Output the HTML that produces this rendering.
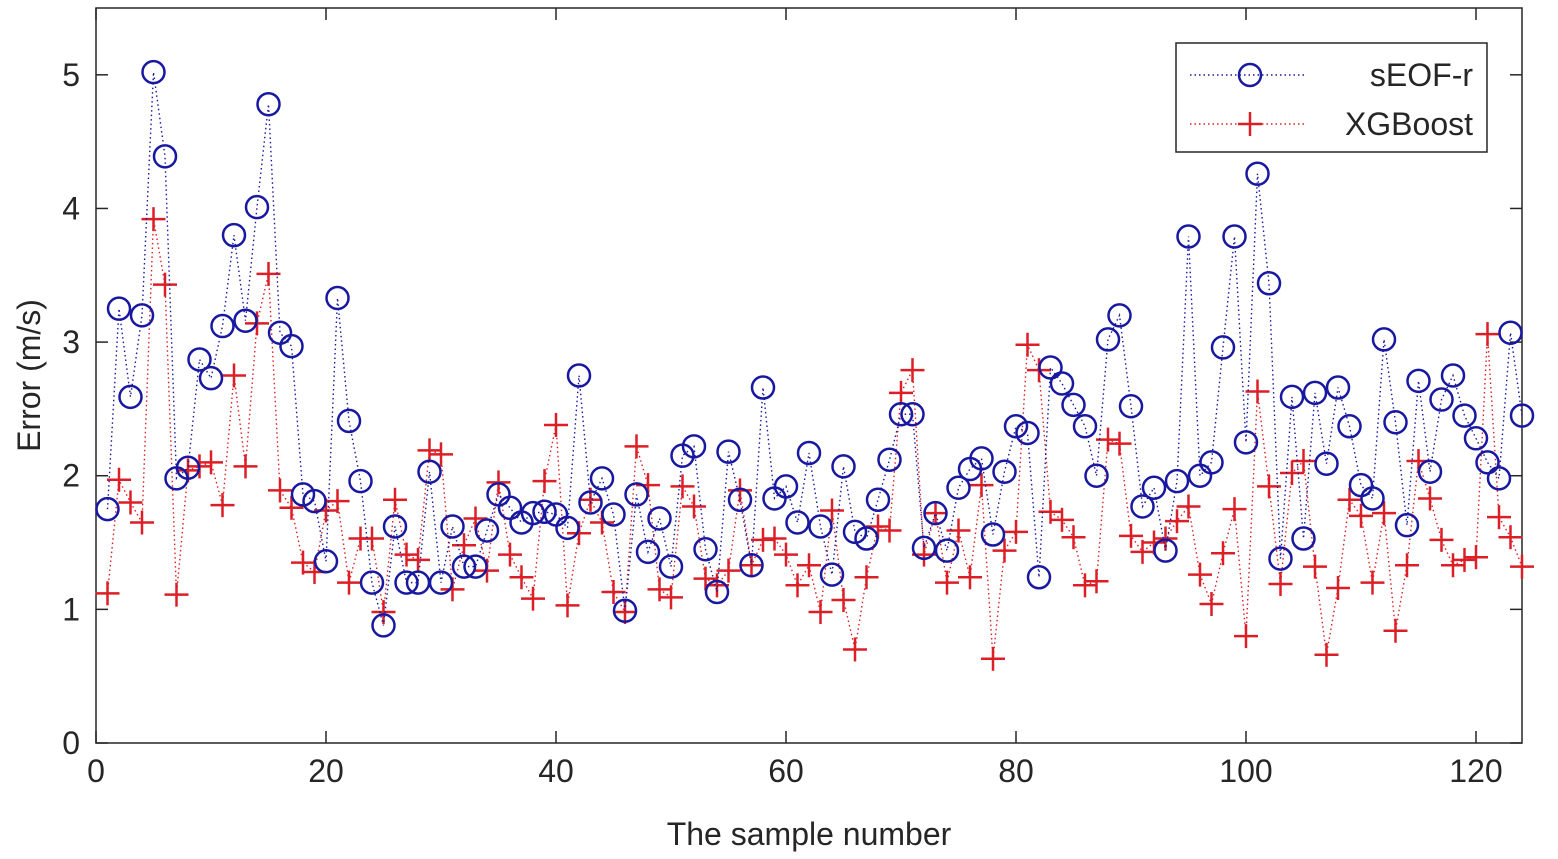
<!DOCTYPE html>
<html><head><meta charset="utf-8"><style>
html,body{margin:0;padding:0;background:#fff;}
svg{display:block;font-family:"Liberation Sans",Arial,sans-serif;}
</style></head><body>
<svg id="chart" width="1558" height="859" viewBox="0 0 1558 859" xmlns="http://www.w3.org/2000/svg"></svg>
<script>
const xTicks=[0,20,40,60,80,100,120];
const yTicks=[0,1,2,3,4,5];
const seriesNames=["sEOF-r","XGBoost"];
const seofR=[1.75,3.25,2.59,3.2,5.02,4.39,1.98,2.06,2.87,2.73,3.12,3.8,3.16,4.01,4.78,3.07,2.97,1.86,1.81,1.36,3.33,2.41,1.96,1.2,0.88,1.62,1.2,1.2,2.03,1.2,1.62,1.32,1.32,1.59,1.86,1.76,1.65,1.72,1.73,1.71,1.61,2.75,1.8,1.98,1.71,0.99,1.86,1.43,1.68,1.32,2.15,2.22,1.45,1.13,2.18,1.82,1.33,2.66,1.83,1.92,1.65,2.17,1.62,1.26,2.07,1.58,1.53,1.82,2.12,2.46,2.46,1.46,1.72,1.44,1.91,2.05,2.13,1.56,2.03,2.37,2.32,1.24,2.81,2.69,2.53,2.37,2.0,3.02,3.2,2.52,1.77,1.91,1.44,1.96,3.79,2.0,2.1,2.96,3.79,2.25,4.26,3.44,1.38,2.59,1.53,2.62,2.09,2.66,2.37,1.93,1.83,3.02,2.4,1.63,2.71,2.03,2.57,2.75,2.45,2.28,2.1,1.98,3.07,2.45];
const xgboost=[1.12,1.97,1.8,1.65,3.92,3.43,1.11,2.04,2.07,2.1,1.78,2.75,2.07,3.14,3.51,1.89,1.76,1.35,1.28,1.74,1.81,1.2,1.53,1.53,0.98,1.82,1.41,1.37,2.19,2.16,1.15,1.48,1.68,1.29,1.95,1.41,1.24,1.08,1.96,2.38,1.03,1.57,1.82,1.65,1.13,0.98,2.22,1.93,1.15,1.09,1.92,1.77,1.23,1.18,1.29,1.89,1.33,1.52,1.53,1.41,1.18,1.33,0.98,1.74,1.07,0.7,1.24,1.62,1.59,2.62,2.79,1.41,1.72,1.2,1.59,1.24,1.93,0.63,1.44,1.58,2.98,2.79,1.73,1.67,1.54,1.18,1.21,2.27,2.24,1.55,1.43,1.5,1.53,1.66,1.77,1.26,1.04,1.42,1.75,0.8,2.63,1.92,1.19,2.02,2.11,1.32,0.66,1.16,1.82,1.7,1.2,1.72,0.84,1.33,2.11,1.83,1.52,1.33,1.37,1.39,3.06,1.69,1.54,1.32];

const L=96,R=1522,T=8,B=743,XMAX=124,YMAX=5.5;
const sx=v=>L+(R-L)*v/XMAX;
const sy=v=>B-(B-T)*v/YMAX;
const NS="http://www.w3.org/2000/svg";
const svg=document.getElementById('chart');
function mk(tag,attrs,parent){const e=document.createElementNS(NS,tag);for(const k in attrs)e.setAttribute(k,attrs[k]);(parent||svg).appendChild(e);return e;}

const box=mk('rect',{x:L,y:T,width:R-L,height:B-T,fill:'none',stroke:'#262626','stroke-width':1.5});



xTicks.forEach(t=>{
  const x=sx(t);
  mk('line',{x1:x,y1:B,x2:x,y2:B-12,stroke:'#262626','stroke-width':1.5});
  mk('line',{x1:x,y1:T,x2:x,y2:T+12,stroke:'#262626','stroke-width':1.5});
  const tx=mk('text',{x:x,y:B+39,'font-size':32,'text-anchor':'middle',fill:'#262626'});
  tx.textContent=t;
  
  
});
yTicks.forEach(t=>{
  const y=sy(t);
  mk('line',{x1:L,y1:y,x2:L+12,y2:y,stroke:'#262626','stroke-width':1.5});
  mk('line',{x1:R,y1:y,x2:R-12,y2:y,stroke:'#262626','stroke-width':1.5});
  const tx=mk('text',{x:L-16,y:y+11,'font-size':32,'text-anchor':'end',fill:'#262626'});
  tx.textContent=t;
  
  
});
const xt=mk('text',{x:(L+R)/2,y:845,'font-size':32,'text-anchor':'middle',fill:'#262626'});
xt.textContent='The sample number';


const yt=mk('text',{x:0,y:0,'font-size':32,'text-anchor':'middle',fill:'#262626',transform:`translate(40,${(T+B)/2}) rotate(-90)`});
yt.textContent='Error (m/s)';



function plus(g,x,y,c){mk('line',{x1:x-12,y1:y,x2:x+12,y2:y,stroke:c,'stroke-width':2.5},g);mk('line',{x1:x,y1:y-12,x2:x,y2:y+12,stroke:c,'stroke-width':2.5},g);}
function circ(g,x,y,c){mk('circle',{cx:x,cy:y,r:11,fill:'none',stroke:c,'stroke-width':2.5},g);}

function drawSeries(vals,color,marker,name){
  const g=mk('g',{});
  
  
  const pts=vals.map((v,i)=>sx(i+1)+','+sy(v)).join(' ');
  mk('polyline',{points:pts,fill:'none',stroke:color,'stroke-width':1.4,'stroke-dasharray':'1.5 3'},g);
  vals.forEach((v,i)=>marker(g,sx(i+1),sy(v),color));
}
drawSeries(xgboost,'#dc1f26',plus,'xgboost-series');
drawSeries(seofR,'#1818a0',circ,'seof-r-series');

const lg=mk('g',{});


mk('rect',{x:1176,y:43,width:311,height:109,fill:'#fff',stroke:'#262626','stroke-width':1.5},lg);
const entries=[[seriesNames[0],'#1818a0',circ,75],[seriesNames[1],'#dc1f26',plus,124]];
entries.forEach(([n,c,m,y])=>{
  const e=mk('g',{},lg);
  
  
  mk('line',{x1:1190,y1:y,x2:1306,y2:y,stroke:c,'stroke-width':1.4,'stroke-dasharray':'1.5 3'},e);
  m(e,1250,y,c);
  const t=mk('text',{x:1473,y:y+11,'font-size':32,'text-anchor':'end',fill:'#262626'},e);
  t.textContent=n;
});
</script>
</body></html>
